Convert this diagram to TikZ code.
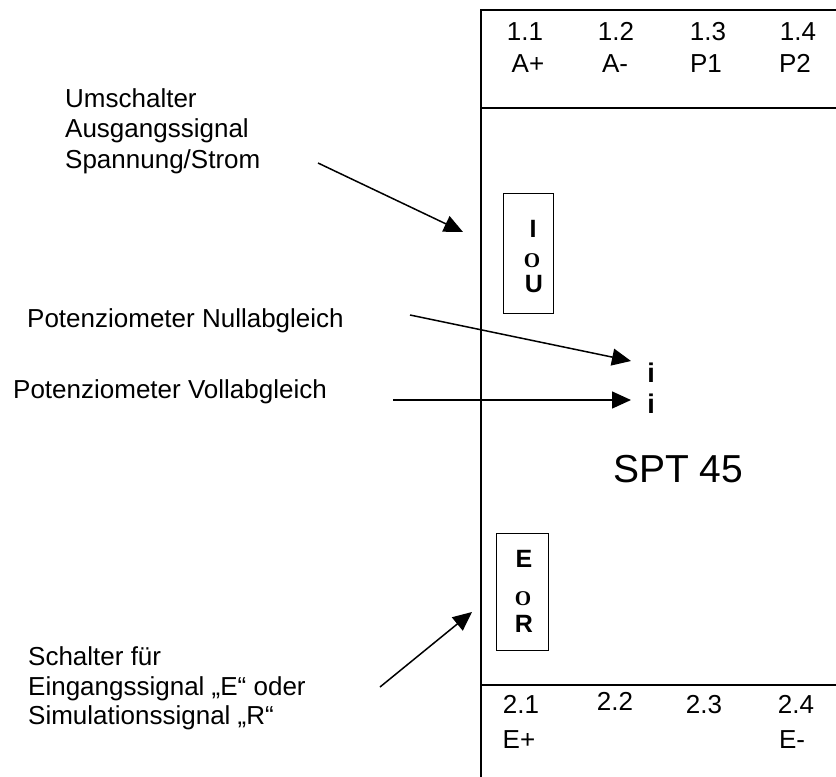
\documentclass[tikz,border=0pt]{standalone}
\usepackage{fontspec}
\setmainfont{Liberation Sans}
\newfontfamily\serifbold{Liberation Serif}
\usetikzlibrary{arrows.meta}
\begin{document}
\begin{tikzpicture}[x=1pt,y=-1pt,
  lbl/.style={font=\fontsize{26}{30.5}\selectfont, inner sep=0pt, anchor=base west},
  term/.style={font=\fontsize{26}{30.5}\selectfont, inner sep=0pt, anchor=base},
  sw/.style={font=\fontsize{25}{28}\selectfont\bfseries, inner sep=0pt, anchor=base},
  swo/.style={font=\fontsize{21}{24}\selectfont\serifbold\bfseries, inner sep=0pt, anchor=base},
  frame/.style={line width=2pt},
  swbox/.style={draw, line width=1pt},
  pointer/.style={line width=1.5pt, -{Triangle[length=19pt,width=17pt]}}]
\useasboundingbox (0,0) rectangle (836,777);
\clip (0,0) rectangle (836,777);
% housing
\draw[frame] (845,10) -- (481,10) -- (481,790);
\draw[frame] (481,108) -- (845,108);
\draw[frame] (481,685) -- (845,685);
% top terminals
\node[term] (t11) at (525,40) {1.1};
\node[term] (t12) at (616,40) {1.2};
\node[term] (t13) at (708,40) {1.3};
\node[term] (t14) at (798,40) {1.4};
\node[term] (tap) at (528,72) {A+};
\node[term] (tam) at (615,72) {A-};
\node[term] (tp1) at (706,72) {P1};
\node[term] (tp2) at (795,72) {P2};
% bottom terminals
\node[term] (t21) at (521,713) {2.1};
\node[term] (t22) at (615,710) {2.2};
\node[term] (t23) at (704,713) {2.3};
\node[term] (t24) at (796,713) {2.4};
\node[term] (tep) at (519,748) {E+};
\node[term] (tem) at (792,748) {E-};
% output switch
\draw[swbox] (503,193) rectangle (553,313);
\node[sw] (swI) at (533,237) {I};
\node[swo] (swO1) at (532,267) {O};
\node[sw] (swU) at (534,292) {U};
% input switch
\draw[swbox] (496,533) rectangle (548,650);
\node[sw] (swE) at (524,567) {E};
\node[swo] (swO2) at (523,605) {O};
\node[sw] (swR) at (524,632) {R};
% potentiometers
\node[font=\fontsize{27}{30}\selectfont\bfseries, inner sep=0pt, anchor=base] (pz) at (651,382) {i};
\node[font=\fontsize{27}{30}\selectfont\bfseries, inner sep=0pt, anchor=base] (pv) at (651,413) {i};
% device name
\node[font=\fontsize{39}{44}\selectfont, inner sep=0pt, anchor=base west] (name) at (613,482) {SPT 45};
% left labels
\node[lbl] (u1) at (65,107) {Umschalter};
\node[lbl] (u2) at (65,137.5) {Ausgangssignal};
\node[lbl] (u3) at (65,168) {Spannung/Strom};
\node[lbl] (pn) at (27,327) {Potenziometer Nullabgleich};
\node[lbl] (pvl) at (13,398) {Potenziometer Vollabgleich};
\node[lbl] (s1) at (28,665) {Schalter für};
\node[lbl] (s2) at (28,695) {Eingangssignal „E“ oder};
\node[lbl] (s3) at (28,724) {Simulationssignal „R“};
% arrows
\coordinate (a1s) at (318,163);
\coordinate (a1e) at (463,232);
\coordinate (a2s) at (410,315);
\coordinate (a2e) at (631,361);
\coordinate (a3s) at (393,400);
\coordinate (a3e) at (631,400);
\coordinate (a4s) at (380,687);
\coordinate (a4e) at (472,612);
\draw[pointer] (a1s) -- (a1e);
\draw[pointer] (a2s) -- (a2e);
\draw[pointer] (a3s) -- (a3e);
\draw[pointer] (a4s) -- (a4e);
\end{tikzpicture}
\end{document}
